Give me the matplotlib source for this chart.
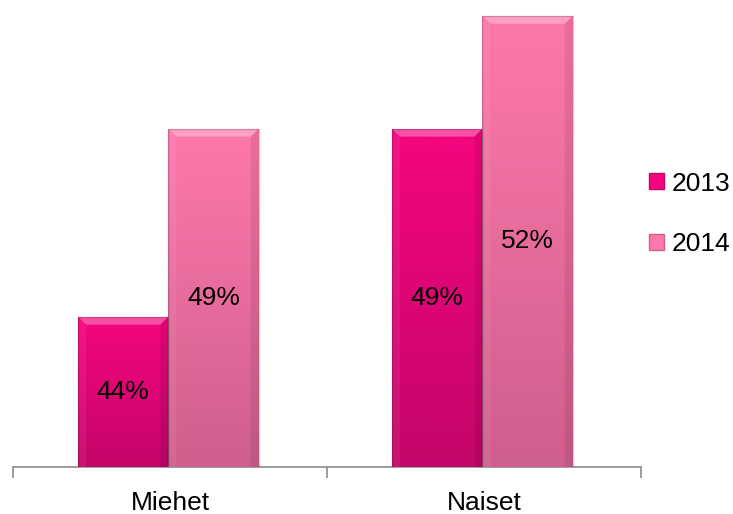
import numpy as np
import matplotlib.pyplot as plt
from matplotlib.colors import LinearSegmentedColormap
from matplotlib.patches import Polygon, Patch

groups = ["Miehet", "Naiset"]
years = ["2013", "2014"]
values_2013 = [44, 49]
values_2014 = [49, 52]

# top/bottom shades of each series
shades = {
    "2013": ("#f5057f", "#c4056a"),
    "2014": ("#fe78ab", "#cf5f8d"),
}

plt.rcParams["font.family"] = ["Liberation Sans", "DejaVu Sans"]

fig = plt.figure(figsize=(7.33, 5.14), dpi=100)
ax = fig.add_axes([13 / 733, 47 / 514, 628 / 733, 467 / 514])
ax.set_xlim(-0.5, 1.5)
ax.set_ylim(40, 52.42)

x = np.arange(len(groups)) - 0.005
width = 0.288
dx = 8 * 2 / 628
dy = 8 * 12.42 / 467


def gradient_bar(xc, val, top_c, bot_c):
    bar = ax.bar(xc, val - 40, width, bottom=40, color=top_c, zorder=2)[0]
    x0, x1 = xc - width / 2, xc + width / 2
    cmap = LinearSegmentedColormap.from_list("g", [bot_c, top_c])
    grad = np.linspace(0, 1, 256).reshape(-1, 1)
    im = ax.imshow(grad, cmap=cmap, extent=[x0, x1, 40, val], origin="lower",
                   aspect="auto", zorder=3)
    im.set_clip_path(bar)
    # bevel edges
    ax.add_patch(Polygon([(x0, val), (x1, val), (x1 - dx, val - dy), (x0 + dx, val - dy)],
                         closed=True, facecolor="white", alpha=0.3, lw=0, zorder=4))
    ax.add_patch(Polygon([(x0, val), (x0 + dx, val - dy), (x0 + dx, 40), (x0, 40)],
                         closed=True, facecolor="white", alpha=0.06, lw=0, zorder=4))
    ax.add_patch(Polygon([(x1, val), (x1 - dx, val - dy), (x1 - dx, 40), (x1, 40)],
                         closed=True, facecolor="black", alpha=0.08, lw=0, zorder=4))
    ax.plot([x0, x0, x1, x1], [40, val, val, 40], color="black", alpha=0.18, lw=1, zorder=5)
    ax.text(xc, (40 + val) / 2, f"{val}%", ha="center", va="center",
            fontsize=19, color="black", zorder=6)


for i in range(len(groups)):
    gradient_bar(x[i] - width / 2, values_2013[i], *shades["2013"])
    gradient_bar(x[i] + width / 2, values_2014[i], *shades["2014"])

for side in ["top", "right", "left"]:
    ax.spines[side].set_visible(False)
ax.spines["bottom"].set_color("#8c8c8c")
ax.spines["bottom"].set_linewidth(1.2)
ax.set_yticks([])
ax.set_xticks([-0.5, 0.5, 1.5])
ax.set_xticklabels([])
ax.tick_params(axis="x", length=8, color="#8c8c8c", width=1.2)
for i, g in enumerate(groups):
    ax.text(np.arange(len(groups))[i], 40 - 24 * 12.42 / 467, g, ha="center", va="top",
            fontsize=19, color="black")

handles = [Patch(facecolor=shades[y][0], edgecolor=shades[y][1], label=y) for y in years]
fig.legend(handles=handles, loc="center left", bbox_to_anchor=(649 / 733, 1 - 214 / 514),
           frameon=False, fontsize=19, handlelength=0.55, handleheight=0.55,
           handletextpad=0.3, labelspacing=1.4, borderpad=0, borderaxespad=0)

fig.savefig("out.png", dpi=100)
